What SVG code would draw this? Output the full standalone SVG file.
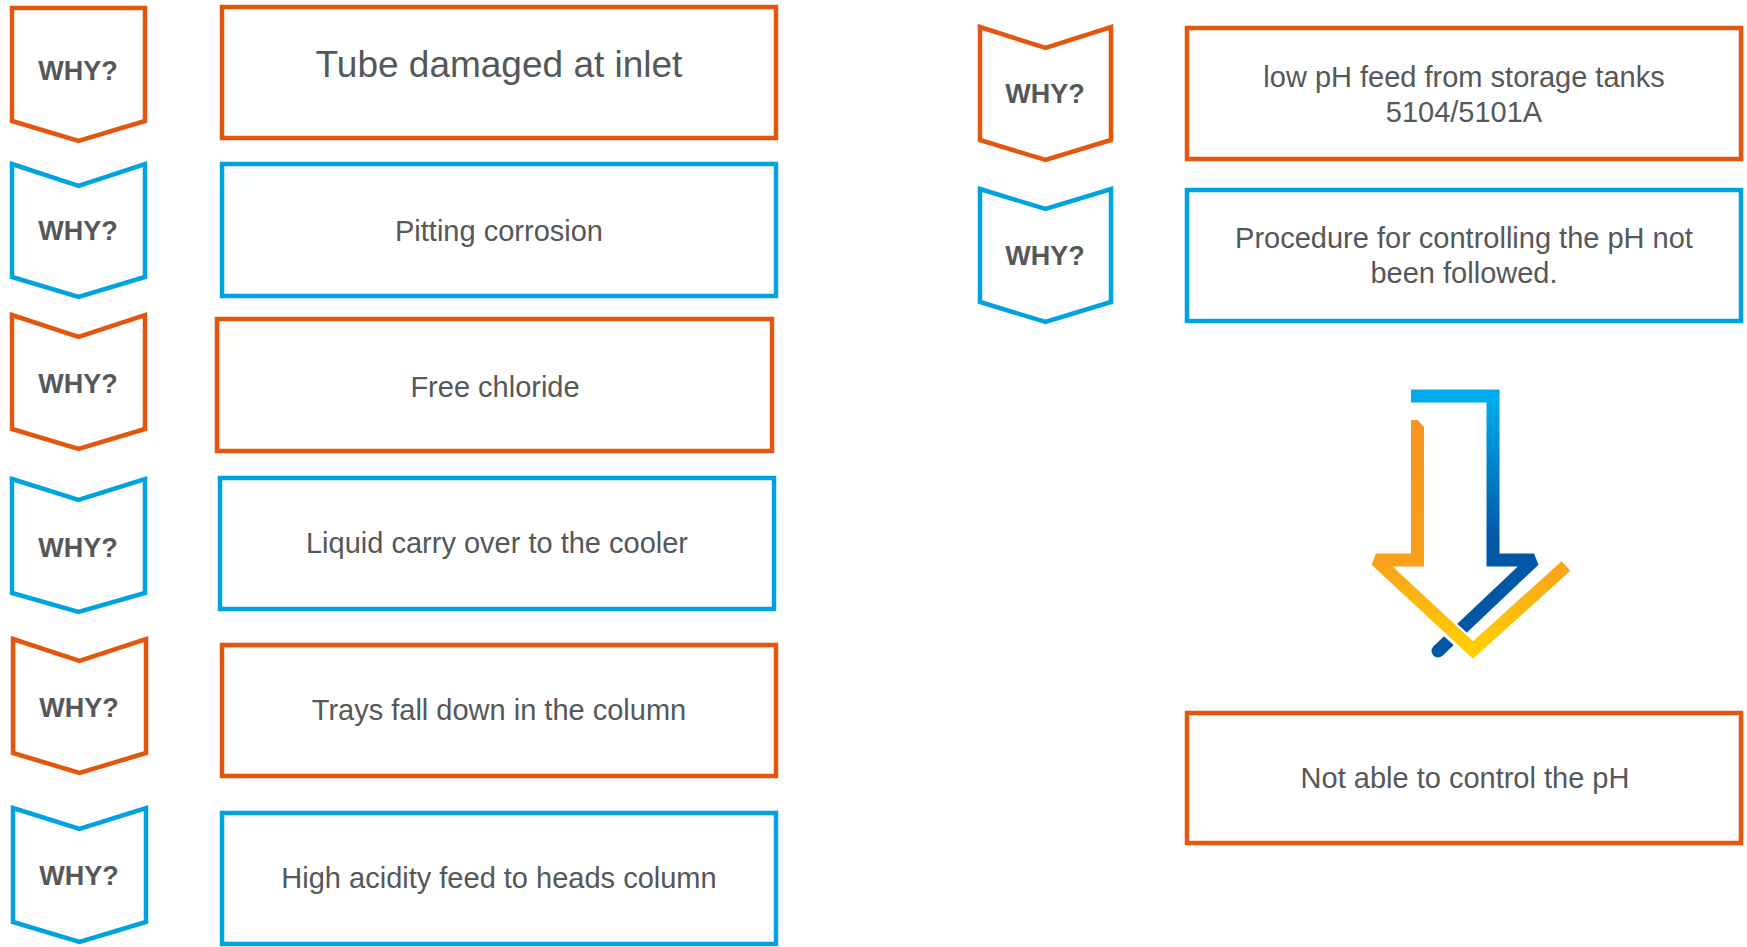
<svg xmlns="http://www.w3.org/2000/svg" width="1747" height="947" viewBox="0 0 1747 947">
<style>
.o{fill:#fff;stroke:#E4560E;stroke-width:4.5}
.b{fill:#fff;stroke:#00A3E2;stroke-width:4.5}
.why{font-family:"Liberation Sans",Arial,sans-serif;font-weight:bold;font-size:27px;fill:#555759;text-anchor:middle}
.t{font-family:"Liberation Sans",Arial,sans-serif;font-size:29px;fill:#555759;text-anchor:middle}
</style>
<defs>
<linearGradient id="gBlue" gradientUnits="userSpaceOnUse" x1="0" y1="395" x2="0" y2="540">
<stop offset="0" stop-color="#00AEEF"/><stop offset="1" stop-color="#0057A6"/>
</linearGradient>
<linearGradient id="gOr" gradientUnits="userSpaceOnUse" x1="0" y1="420" x2="0" y2="655">
<stop offset="0" stop-color="#F7941D"/><stop offset="0.6" stop-color="#F9A11B"/><stop offset="1" stop-color="#FFD200"/>
</linearGradient>
</defs>
<g id="why1"><polygon class="o" points="12,8 145,8 145,121 78.5,141 12,121"/><text class="why" x="78" y="80">WHY?</text></g>
<g id="why2"><polygon class="b" points="12,164 78.5,186 145,164 145,277 78.5,297 12,277"/><text class="why" x="78" y="240">WHY?</text></g>
<g id="why3"><polygon class="o" points="12,315 78.5,337 145,315 145,429 78.5,449 12,429"/><text class="why" x="78" y="393">WHY?</text></g>
<g id="why4"><polygon class="b" points="12,479 78.5,500 145,479 145,593 78.5,612 12,593"/><text class="why" x="78" y="557">WHY?</text></g>
<g id="why5"><polygon class="o" points="13,639 79.5,661 146,639 146,753 79.5,773 13,753"/><text class="why" x="79" y="717">WHY?</text></g>
<g id="why6"><polygon class="b" points="13,808 79.5,829 146,808 146,922 79.5,942 13,922"/><text class="why" x="79" y="885">WHY?</text></g>
<g id="why7"><polygon class="o" points="980,27 1045.5,48 1111,27 1111,140 1045.5,160 980,140"/><text class="why" x="1045" y="103">WHY?</text></g>
<g id="why8"><polygon class="b" points="980,189 1045.5,209 1111,189 1111,302 1045.5,322 980,302"/><text class="why" x="1045" y="265">WHY?</text></g>

<g id="box1"><rect class="o" x="222" y="7" width="554" height="131"/><text class="t" x="499" y="77" style="font-size:37px">Tube damaged at inlet</text></g>
<g id="box2"><rect class="b" x="222" y="164" width="554" height="132"/><text class="t" x="499" y="241">Pitting corrosion</text></g>
<g id="box3"><rect class="o" x="217" y="319" width="555" height="132"/><text class="t" x="495" y="397">Free chloride</text></g>
<g id="box4"><rect class="b" x="220" y="478" width="554" height="131"/><text class="t" x="497" y="553">Liquid carry over to the cooler</text></g>
<g id="box5"><rect class="o" x="222" y="645" width="554" height="131"/><text class="t" x="499" y="720">Trays fall down in the column</text></g>
<g id="box6"><rect class="b" x="222" y="813" width="554" height="131"/><text class="t" x="499" y="888">High acidity feed to heads column</text></g>
<g id="box7"><rect class="o" x="1187" y="28" width="554" height="131"/><text class="t" x="1464" y="87">low pH feed from storage tanks</text><text class="t" x="1464" y="122">5104/5101A</text></g>
<g id="box8"><rect class="b" x="1187" y="190" width="554" height="131"/><text class="t" x="1464" y="248">Procedure for controlling the pH not</text><text class="t" x="1464" y="283">been followed.</text></g>
<g id="box9"><rect class="o" x="1187" y="713" width="554" height="130"/><text class="t" x="1465" y="788">Not able to control the pH</text></g>

<g id="arrow">
<polyline points="1411,396 1493,396 1493,560 1534,560 1438,651" fill="none" stroke="url(#gBlue)" stroke-width="13" stroke-linejoin="miter" stroke-miterlimit="2"/>
<circle cx="1438" cy="651" r="6.5" fill="#0057A6"/>
<line x1="1446" y1="626" x2="1466" y2="644" stroke="#fff" stroke-width="18"/>
<polyline points="1417.5,420 1417.5,560 1376,560 1473,650 1566,566" fill="none" stroke="url(#gOr)" stroke-width="13" stroke-linejoin="miter" stroke-miterlimit="2"/>
<polygon points="1410,412 1425,428 1425,412" fill="#fff"/>
</g>
</svg>
